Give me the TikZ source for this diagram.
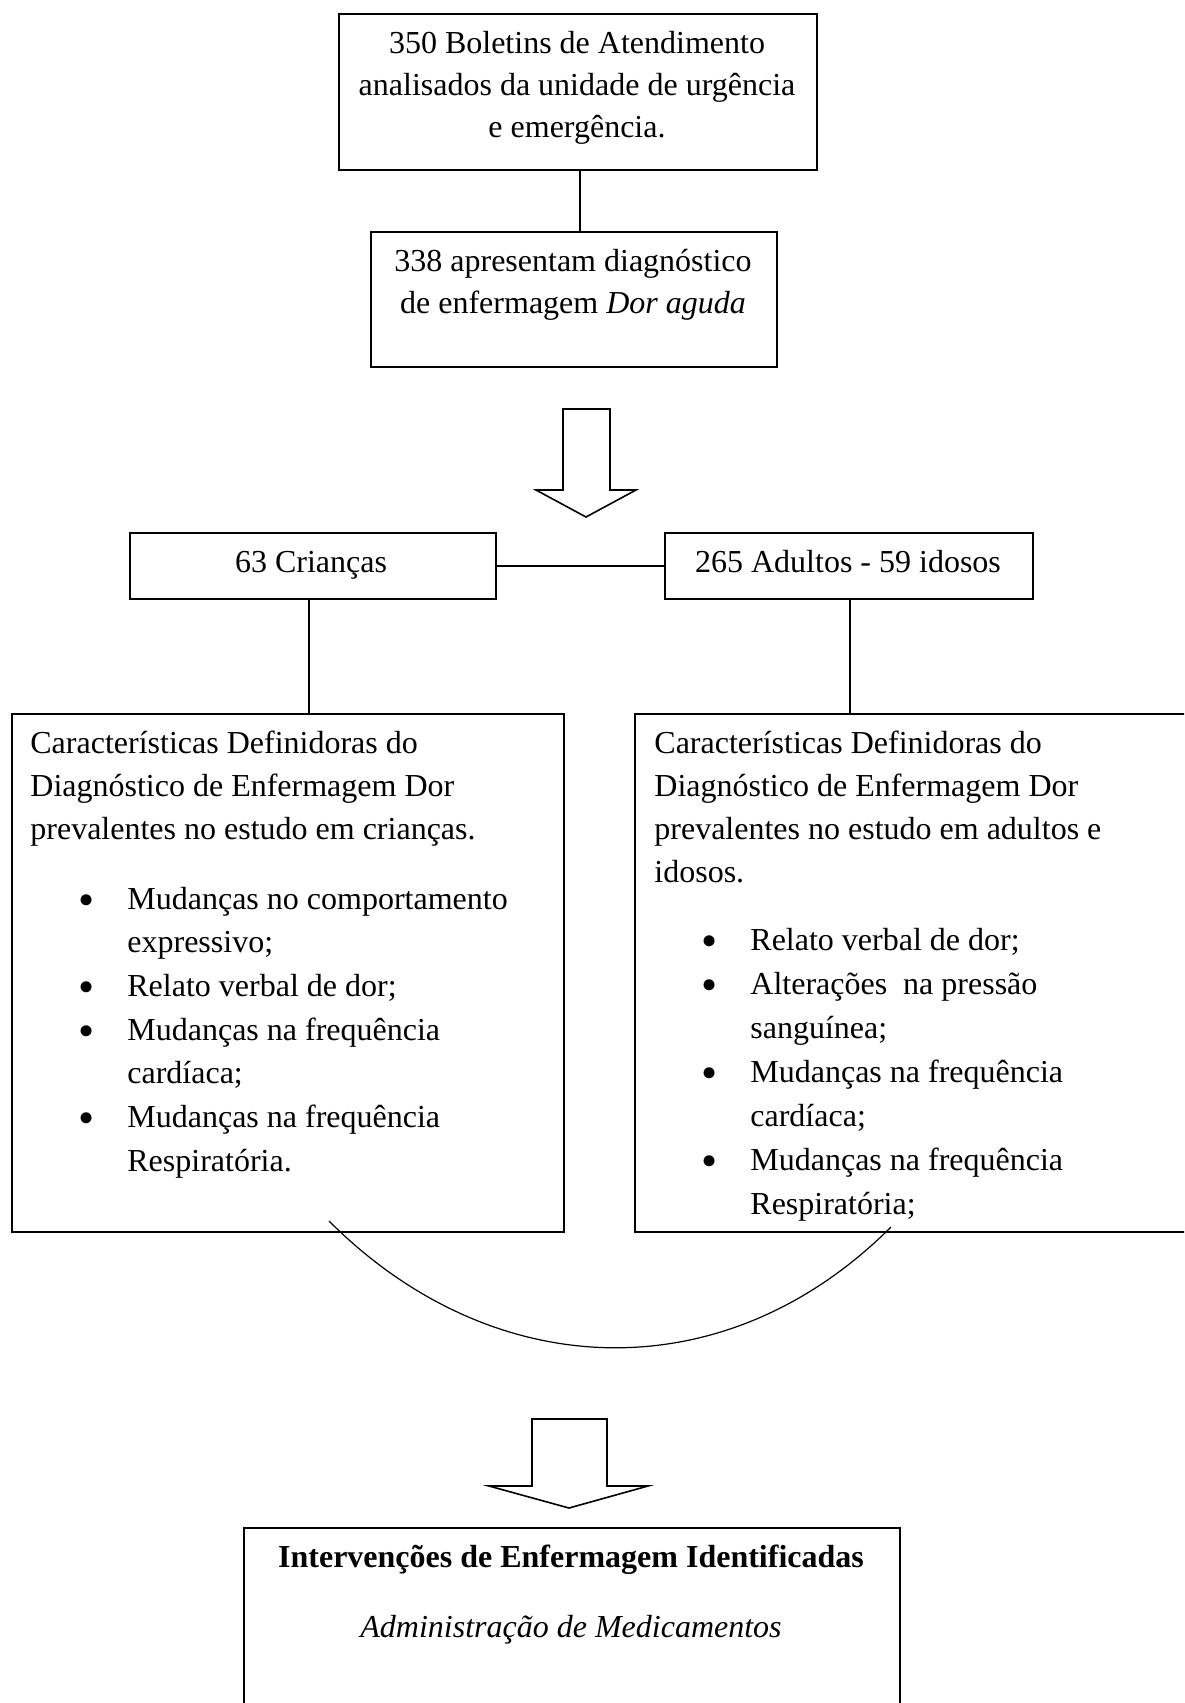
\documentclass[tikz,border=0pt]{standalone}
\usepackage{fontspec}
\setmainfont{Liberation Serif}
\begin{document}
\begin{tikzpicture}[x=0.5pt,y=-0.5pt,
  box/.style={draw,line width=1pt,inner sep=0pt,anchor=north west},
  conn/.style={line width=0.6pt},
  txt/.style={inner sep=0pt,font=\fontsize{16}{21.75}\selectfont},
  tl/.style={txt,anchor=base west},
  tc/.style={txt,anchor=base},
  bul/.style={inner sep=0pt,anchor=base,font=\fontsize{23}{23}\selectfont},
  blockarrow/.style={draw,line width=0.8pt,fill=white,line join=miter}]
\clip (0,0) rectangle (1184,1703);
\fill[white] (0,0) rectangle (1184,1703);
% boxes
\node[box,minimum width=239pt,minimum height=78pt] (b1) at (338,13) {};
\node[box,minimum width=203pt,minimum height=67.5pt] (b2) at (370,231) {};
\node[box,minimum width=183pt,minimum height=33pt] (cr) at (129,532) {};
\node[box,minimum width=184pt,minimum height=33pt] (ad) at (664,532) {};
\node[box,minimum width=276pt,minimum height=259pt] (L) at (11,713) {};
\node[box,minimum width=283pt,minimum height=259pt] (R) at (634,713) {};
\node[box,minimum width=328pt,minimum height=100pt] (bot) at (243,1527) {};
% connectors
\draw[conn] (b1.south -| 580,0) -- (b2.north -| 580,0);
\draw[conn] (cr.east) -- (ad.west);
\draw[conn] (cr.south -| 309,0) -- (L.north -| 309,0);
\draw[conn] (ad.south -| 850,0) -- (R.north -| 850,0);
% block arrows
\draw[blockarrow] (563,409) -- (610,409) -- (610,490) -- (636,490) -- (586,517) -- (536,490) -- (563,490) -- cycle;
\draw[blockarrow] (532,1419) -- (607,1419) -- (607,1486) -- (648,1486) -- (569,1508) -- (489,1486) -- (532,1486) -- cycle;
% arc
\coordinate (arcA) at (329,1221);
\coordinate (arcB) at (891,1227);
\draw[conn] (arcA) .. controls (494,1386) and (726,1392) .. (arcB);
% texts box 1
\node[tc] (t1a) at (577,53) {350 Boletins de Atendimento};
\node[tc] (t1b) at (577,95) {analisados da unidade de urgência};
\node[tc] (t1c) at (577,137) {e emergência.};
% box 2
\node[tc] (t2a) at (573,271) {338 apresentam diagnóstico};
\node[tc] (t2b) at (573,313) {de enfermagem \textit{Dor aguda}};
% children / adults
\node[tc] (tcr) at (311,572) {63 Crianças};
\node[tc] (tad) at (848,572) {265 Adultos - 59 idosos};
% left box
\node[tl] (la) at (30,753) {Características Definidoras do};
\node[tl] (lb) at (30,796) {Diagnóstico de Enfermagem Dor};
\node[tl] (lc) at (30,839) {prevalentes no estudo em crianças.};
\foreach \i/\t/\b in {0/Mudanças no comportamento/1,1/expressivo;/0,2/Relato verbal de dor;/1,3/Mudanças na frequência/1,4/cardíaca;/0,5/Mudanças na frequência/1,6/Respiratória./0}{
  \node[tl] (lli\i) at (127,909+43.7*\i) {\t};
  \ifnum\b=1 \node[bul] (llb\i) at (87,915+43.7*\i) {•};\fi
}
% right box
\node[tl] (ra) at (654,753) {Características Definidoras do};
\node[tl] (rb) at (654,796) {Diagnóstico de Enfermagem Dor};
\node[tl] (rc) at (654,839) {prevalentes no estudo em adultos e};
\node[tl] (rd) at (654,882) {idosos.};
\foreach \i/\t/\b in {0/Relato verbal de dor;/1,1/Alterações\ \ na pressão/1,2/sanguínea;/0,3/Mudanças na frequência/1,4/cardíaca;/0,5/Mudanças na frequência/1,6/Respiratória;/0}{
  \node[tl] (rli\i) at (750,950+44*\i) {\t};
  \ifnum\b=1 \node[bul] (rlb\i) at (710,956+44*\i) {•};\fi
}
% bottom box
\node[tc] (bt1) at (571,1567) {\textbf{Intervenções de Enfermagem Identificadas}};
\node[tc] (bt2) at (571,1637) {\textit{Administração de Medicamentos}};
\end{tikzpicture}
\end{document}
